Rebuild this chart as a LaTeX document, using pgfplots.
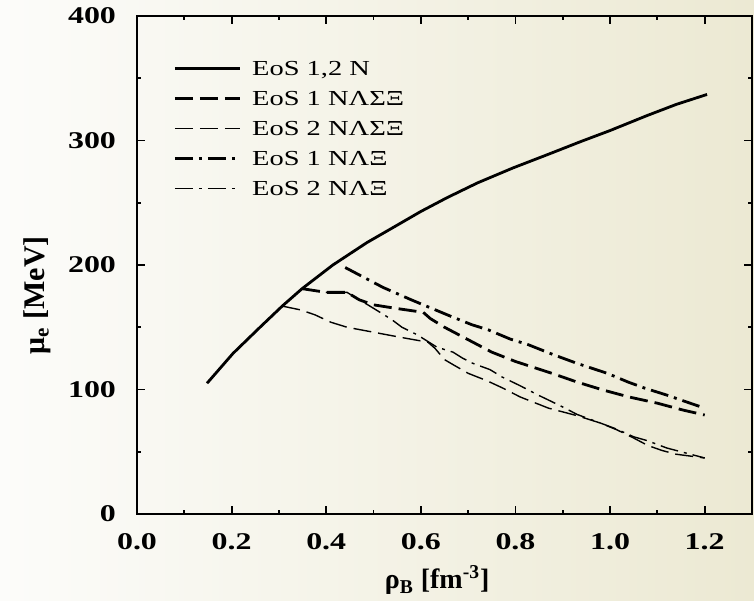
\documentclass[border=0pt]{standalone}
\usepackage{fontspec}
\setmainfont{Liberation Serif}
\usepackage{graphicx}
\usepackage{pgfplots}
\pgfplotsset{compat=1.18}
\definecolor{bgL}{RGB}{252,252,250}
\definecolor{bgR}{RGB}{236,233,211}
\newcommand{\W}[1]{\scalebox{1.33}[1]{#1}}
\newcommand{\WL}[1]{\scalebox{1.33}[1]{#1}}
\begin{document}
\begin{tikzpicture}
\useasboundingbox (0,0) rectangle (377pt,300pt);
\shade[left color=bgL, right color=bgR] (0,0) rectangle (377pt,300pt);
\begin{axis}[
  at={(68.5pt,43pt)}, anchor=south west,
  scale only axis, width=307.5pt, height=249pt,
  xmin=0, xmax=1.3, ymin=0, ymax=400,
  axis line style={line width=1.1pt},
  every tick/.style={black, line width=0.9pt},
  major tick length=4pt, minor tick length=2pt,
  xtick={0,0.2,0.4,0.6,0.8,1.0,1.2},
  xticklabels={\W{0.0},\W{0.2},\W{0.4},\W{0.6},\W{0.8},\W{1.0},\W{1.2}},
  ytick={0,100,200,300,400},
  yticklabels={\W{0},\W{100},\W{200},\W{300},\W{400}},
  minor x tick num=1, minor y tick num=1,
  xticklabel style={font=\fontsize{12}{13}\selectfont\bfseries, anchor=center, yshift=-14pt},
  yticklabel style={font=\fontsize{12}{13}\selectfont\bfseries, anchor=east, xshift=-7pt},
  xlabel={ρ\textsubscript{B} [fm\textsuperscript{-3}]},
  ylabel={μ\textsubscript{e} [MeV]},
  every axis x label/.style={at={(axis description cs:0.488,-0.133)}, anchor=center, font=\fontsize{14}{15}\selectfont\bfseries},
  every axis y label/.style={at={(axis description cs:-0.1626,0.439)}, anchor=center, rotate=90, font=\fontsize{15}{16}\selectfont\bfseries},
  legend style={at={(axis description cs:0.0488,0.9177)}, anchor=north west, draw=none, fill=none,
    font=\fontsize{10.7}{12}\selectfont, row sep=7.7pt, column sep=5.5pt,
    nodes={inner sep=0pt, text height=7pt, text depth=0.3pt}},
  legend cell align=left,
  legend image code/.code={\draw[#1] (0pt,0pt) -- (32.5pt,0pt);},
]
\addplot[black, line width=1.4pt] coordinates {
(0.148,105) (0.203,129) (0.26,150) (0.307,167) (0.349,181) (0.414,200)
(0.486,218) (0.55,232) (0.60,243) (0.655,254) (0.72,266) (0.795,278)
(0.87,289) (0.937,299) (1.0,308) (1.078,320) (1.14,329) (1.205,337)};
\addlegendentry{\WL{EoS 1,2 N}}
\addplot[black, line width=1.4pt, dash pattern=on 9pt off 3.5pt] coordinates {
(0.349,181) (0.40,178) (0.444,178) (0.47,172) (0.50,168) (0.55,165)
(0.605,162) (0.62,157) (0.65,150) (0.70,140) (0.75,130) (0.80,122.5)
(0.877,113) (0.93,106) (0.985,99.6) (1.04,94) (1.1,89) (1.154,83.5) (1.2,79.5)};
\addlegendentry{\WL{EoS 1 NΛΣΞ}}
\addplot[black, line width=0.7pt, dash pattern=on 9pt off 3.5pt] coordinates {
(0.307,167) (0.345,164) (0.376,160) (0.41,154) (0.444,150) (0.5,146)
(0.556,142) (0.615,138) (0.63,133) (0.65,124) (0.668,120) (0.70,113)
(0.74,107) (0.774,101) (0.81,94) (0.85,88) (0.87,85) (0.93,79) (0.98,73)
(1.015,67.5) (1.05,61) (1.08,55) (1.11,51) (1.14,48) (1.2,45)};
\addlegendentry{\WL{EoS 2 NΛΣΞ}}
\addplot[black, line width=1.4pt, dash pattern=on 9pt off 3pt on 1.5pt off 3pt] coordinates {
(0.44,198) (0.5,186) (0.52,182) (0.58,172) (0.602,168.5) (0.662,159)
(0.708,152) (0.742,148) (0.789,140.5) (0.827,136) (0.88,128) (0.93,121)
(0.994,113) (1.038,106) (1.074,101) (1.12,95.5) (1.154,91) (1.2,85)};
\addlegendentry{\WL{EoS 1 NΛΞ}}
\addplot[black, line width=0.7pt, dash pattern=on 9pt off 3pt on 1.5pt off 3pt] coordinates {
(0.349,181) (0.40,178) (0.444,178) (0.47,172) (0.488,168) (0.518,161)
(0.539,156) (0.56,150) (0.592,144) (0.613,139) (0.634,134) (0.668,130)
(0.689,125) (0.71,121) (0.746,116) (0.772,110) (0.81,103) (0.848,95.5)
(0.87,91.5) (0.905,85) (0.93,80) (0.98,73) (1.015,68) (1.05,62)
(1.078,59) (1.12,53) (1.16,49) (1.2,45)};
\addlegendentry{\WL{EoS 2 NΛΞ}}
\end{axis}
\end{tikzpicture}
\end{document}
